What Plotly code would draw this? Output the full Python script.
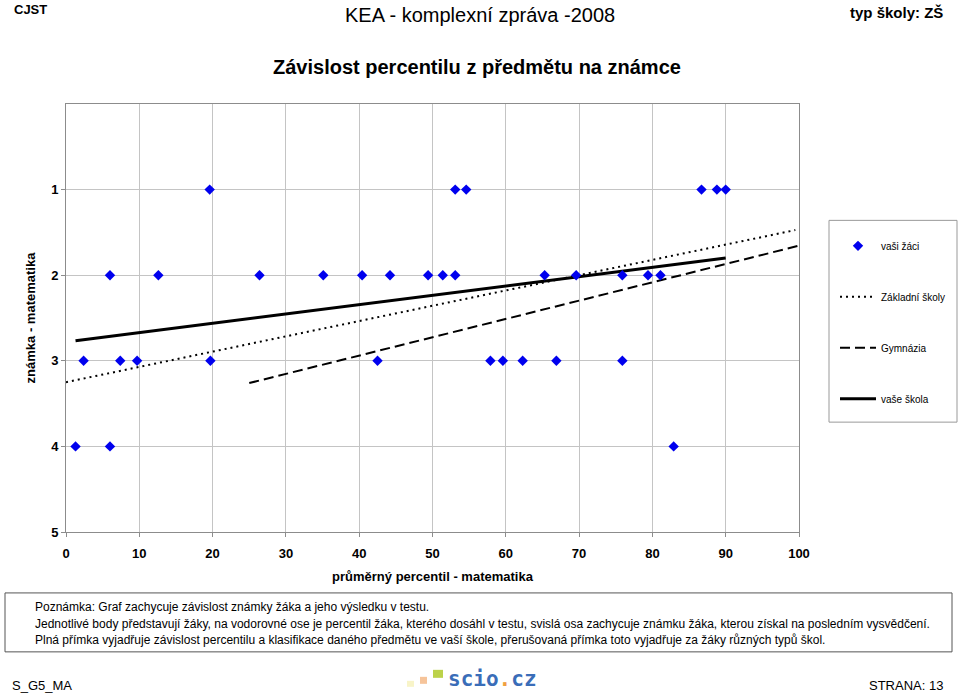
import plotly.graph_objects as go

# ---- data ----
percentil = [19.6, 53.1, 54.6, 86.7, 88.8, 90.0,
             6.0, 12.6, 26.4, 35.1, 40.4, 44.2, 49.4, 51.4, 53.1, 65.3, 69.6, 75.9, 79.4, 81.1,
             2.4, 7.4, 9.7, 19.7, 42.5, 57.9, 59.6, 62.3, 66.9, 75.9,
             1.3, 6.0, 82.9]
znamka = [1] * 6 + [2] * 14 + [3] * 10 + [4] * 3

skola_x = [1.3, 90.0]
skola_y = [2.766, 1.798]
zs_x = [0, 99.5]
zs_y = [3.25, 1.473]
gym_x = [25, 100]
gym_y = [3.26, 1.655]

x_ticks = [0, 10, 20, 30, 40, 50, 60, 70, 80, 90, 100]
y_ticks = [1, 2, 3, 4, 5]

W, H = 959, 693
L, R, T, B = 66, 799, 103.5, 532


def px(x):
    return (x - L) / (R - L)


def py(y):
    return (B - y) / (B - T)


FONT = "Liberation Sans, Arial, sans-serif"

fig = go.Figure()
fig.add_trace(go.Scatter(x=zs_x, y=zs_y, mode="lines", name="Základní školy",
                         line=dict(color="black", width=2, dash="2px,4px"), legendrank=2))
fig.add_trace(go.Scatter(x=gym_x, y=gym_y, mode="lines", name="Gymnázia",
                         line=dict(color="black", width=2, dash="10px,5px"), legendrank=3))
fig.add_trace(go.Scatter(x=skola_x, y=skola_y, mode="lines", name="vaše škola",
                         line=dict(color="black", width=3), legendrank=4))
fig.add_trace(go.Scatter(x=percentil, y=znamka, mode="markers", name="vaši žáci",
                         marker=dict(symbol="diamond", size=8, color="#0000ee"), legendrank=1))

annotations = []


def ann(text, x, y, size, bold=False, xanchor="left", color="black", family=FONT):
    t = f"<b>{text}</b>" if bold else text
    annotations.append(dict(text=t, x=px(x), y=py(y), xref="paper", yref="paper",
                            xanchor=xanchor, yanchor="middle", showarrow=False,
                            font=dict(size=size, color=color, family=family)))


ann("CJST", 12, 9, 13, bold=True)
ann("KEA - komplexní zpráva -2008", 480, 14, 20, xanchor="center")
ann("typ školy: ZŠ", 945, 12, 15, bold=True, xanchor="right")
ann("Závislost percentilu z předmětu na známce", 477, 66, 20, bold=True, xanchor="center")

ann("Poznámka: Graf zachycuje závislost známky žáka a jeho výsledku v testu.", 33, 607, 12)
ann("Jednotlivé body představují žáky, na vodorovné ose je percentil žáka, kterého dosáhl v testu, "
    "svislá osa zachycuje známku žáka, kterou získal na posledním vysvědčení.", 33, 624, 12)
ann("Plná přímka vyjadřuje závislost percentilu a klasifikace daného předmětu ve vaší škole, "
    "přerušovaná přímka toto vyjadřuje za žáky různých typů škol.", 33, 640, 12)

ann("S_G5_MA", 10, 686, 13)
ann("STRANA: 13", 945, 686, 13, xanchor="right")
ann("scio<span style='color:#f0a040'>.</span>cz", 446, 679, 21, bold=True,
    color="#3a6db8", family="DejaVu Sans Mono, monospace")

shapes = [
    dict(type="rect", xref="paper", yref="paper", x0=px(829), x1=px(957), y0=py(220), y1=py(422),
         line=dict(color="#999999", width=1), fillcolor="rgba(0,0,0,0)"),
    dict(type="rect", xref="paper", yref="paper", x0=px(5), x1=px(952), y0=py(593), y1=py(652),
         line=dict(color="#555555", width=1), fillcolor="rgba(0,0,0,0)"),
    dict(type="rect", xref="paper", yref="paper", x0=px(407), x1=px(414), y0=py(681), y1=py(687),
         line=dict(width=0), fillcolor="#f8f4c8"),
    dict(type="rect", xref="paper", yref="paper", x0=px(420), x1=px(427), y0=py(677), y1=py(684),
         line=dict(width=0), fillcolor="#f6c49a"),
    dict(type="rect", xref="paper", yref="paper", x0=px(433), x1=px(443), y0=py(670), y1=py(678),
         line=dict(width=0), fillcolor="#bcd24a"),
]

fig.update_layout(
    width=W, height=H,
    margin=dict(l=L, r=W - R, t=T, b=H - B, pad=0, autoexpand=False),
    paper_bgcolor="white", plot_bgcolor="white",
    font=dict(family=FONT, color="black"),
    showlegend=True,
    legend=dict(x=px(835), y=py(231), xanchor="left", yanchor="top",
                bgcolor="rgba(0,0,0,0)", borderwidth=0, font=dict(size=10, family=FONT),
                tracegroupgap=32, itemwidth=36, traceorder="grouped"),
    annotations=annotations,
    shapes=shapes,
)
for i, tr in enumerate(fig.data):
    tr.legendgroup = f"g{i}"

fig.update_xaxes(range=[0, 100], tickvals=x_ticks, ticktext=[str(v) for v in x_ticks],
                 showgrid=True, gridcolor="#c4c4c4", gridwidth=1, zeroline=False,
                 showline=True, linecolor="#8c8c8c", linewidth=1, mirror=True,
                 ticks="outside", ticklen=4, tickcolor="#8c8c8c", ticklabelstandoff=5,
                 automargin=False,
                 tickfont=dict(size=13, family="Liberation Sans, Arial", weight="bold"),
                 title=dict(text="<b>průměrný percentil - matematika</b>", font=dict(size=13), standoff=12))
fig.update_yaxes(range=[5, 0], tickvals=y_ticks, ticktext=[str(v) for v in y_ticks],
                 showgrid=True, gridcolor="#c4c4c4", gridwidth=1, zeroline=False,
                 showline=True, linecolor="#8c8c8c", linewidth=1, mirror=True,
                 ticks="outside", ticklen=4, tickcolor="#8c8c8c", automargin=False,
                 tickfont=dict(size=13, family="Liberation Sans, Arial", weight="bold"),
                 title=dict(text="<b>známka - matematika</b>", font=dict(size=13), standoff=12))

fig.write_html("out.html", config={"displayModeBar": False},
               post_script="document.body.style.margin='0';document.body.style.padding='0';")
